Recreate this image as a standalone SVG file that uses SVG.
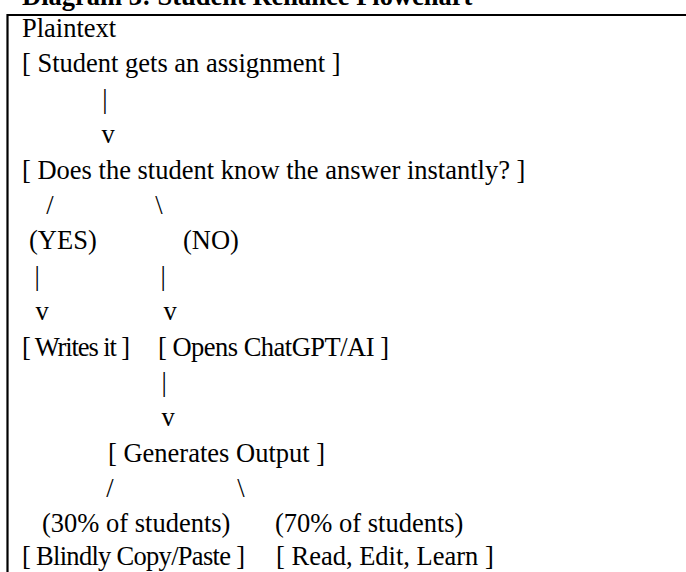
<svg xmlns="http://www.w3.org/2000/svg" width="686" height="572" viewBox="0 0 686 572">
<style>
  text { font-family: "Liberation Serif", "Times New Roman", serif; font-size: 26.5px; fill: #000; }
  .title { font-weight: bold; }
  .frame { stroke: #000; stroke-width: 2.2; fill: none; }
</style>
<rect width="686" height="572" fill="#fff"/>
<text class="title" x="22" y="5">Diagram 3: Student Reliance Flowchart</text>
<path class="frame" d="M7.5,572 V15 H686"/>
<text x="22" y="37">Plaintext</text>
<g id="n-assignment"><text x="22" y="72.4">[ Student gets an assignment ]</text></g>
<g id="n-know"><text x="22" y="178.6">[ Does the student know the answer instantly? ]</text></g>
<g id="n-yes"><text x="29" y="249.4">(YES)</text></g>
<g id="n-no"><text x="183" y="249.4">(NO)</text></g>
<g id="n-writes"><text x="22" y="355.6" textLength="108" lengthAdjust="spacing">[ Writes it ]</text></g>
<g id="n-opens"><text x="158" y="355.6" textLength="231" lengthAdjust="spacing">[ Opens ChatGPT/AI ]</text></g>
<g id="n-generates"><text x="108" y="461.8">[ Generates Output ]</text></g>
<g id="n-30"><text x="42" y="531.6">(30% of students)</text></g>
<g id="n-70"><text x="275" y="531.6">(70% of students)</text></g>
<g id="n-copy"><text x="22" y="565" textLength="223" lengthAdjust="spacing">[ Blindly Copy/Paste ]</text></g>
<g id="n-learn"><text x="276" y="565">[ Read, Edit, Learn ]</text></g>
<g id="connectors">
  <text x="102.3" y="107.8">|</text>
  <text x="101.4" y="143.2">v</text>
  <text x="46.3" y="214">/</text>
  <text x="155.3" y="214">\</text>
  <text x="34.4" y="284.8">|</text>
  <text x="160.4" y="284.8">|</text>
  <text x="35.4" y="320.2">v</text>
  <text x="163.4" y="320.2">v</text>
  <text x="161.4" y="391">|</text>
  <text x="161.4" y="426.4">v</text>
  <text x="106.3" y="497.2">/</text>
  <text x="237.3" y="497.2">\</text>
</g>
</svg>
